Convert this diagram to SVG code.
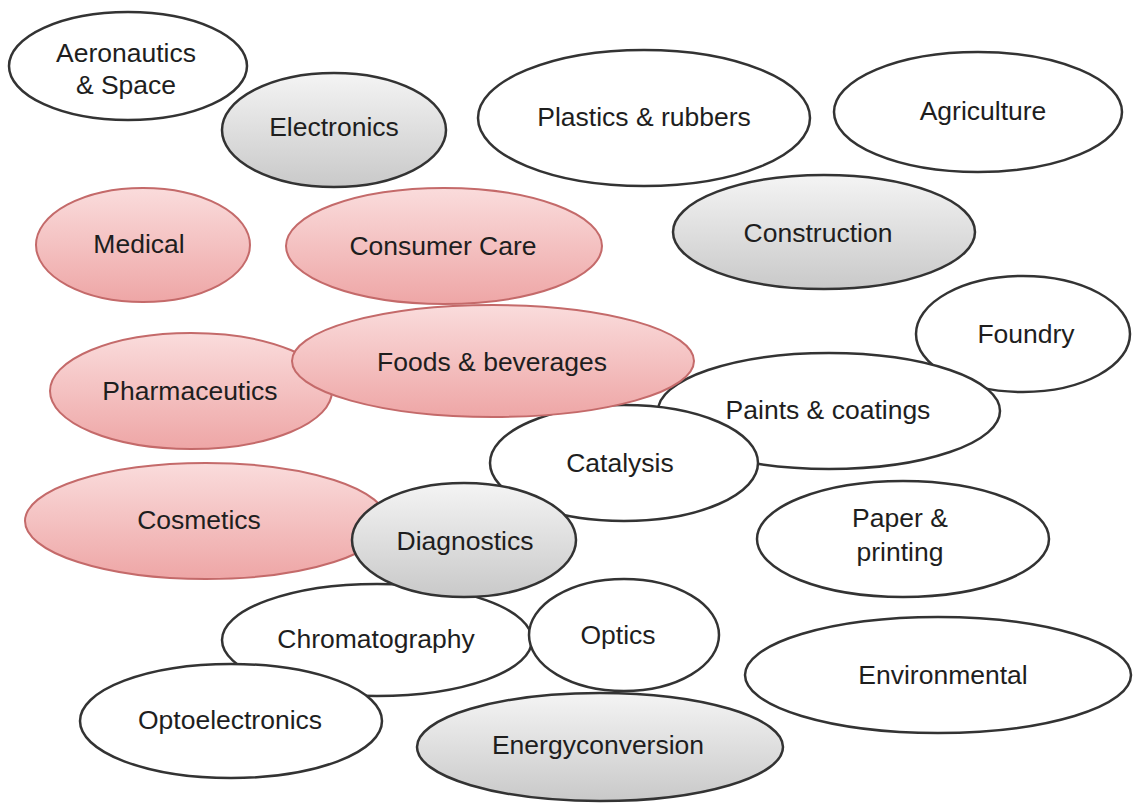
<svg xmlns="http://www.w3.org/2000/svg" width="1133" height="805" viewBox="0 0 1133 805">
  <defs>
    <linearGradient id="gGray" x1="0" y1="0" x2="0" y2="1">
      <stop offset="0" stop-color="#f4f4f4"/>
      <stop offset="1" stop-color="#c9c9c9"/>
    </linearGradient>
    <linearGradient id="gPink" x1="0" y1="0" x2="0" y2="1">
      <stop offset="0" stop-color="#fadcdc"/>
      <stop offset="1" stop-color="#eea6a6"/>
    </linearGradient>
  </defs>
  <style>
    ellipse { stroke-width: 2.5; }
    .w ellipse { fill: #ffffff; stroke: #333333; }
    .g ellipse { fill: url(#gGray); stroke: #333333; }
    .p ellipse { fill: url(#gPink); stroke: #c46a6a; stroke-width: 2; }
    text { font-family: "Liberation Sans", Arial, sans-serif; font-size: 26.5px; fill: #1e1e1e; text-anchor: middle; }
  </style>
  <rect width="1133" height="805" fill="#ffffff"/>

  <!-- topic bubbles, painted back to front -->
  <g id="aeronautics" class="w"><ellipse cx="128" cy="66" rx="119" ry="54"/><text x="126" y="62">Aeronautics</text><text x="126" y="94">&amp; Space</text></g>
  <g id="electronics" class="g"><ellipse cx="334" cy="130" rx="112" ry="57"/><text x="334" y="136">Electronics</text></g>
  <g id="plastics" class="w"><ellipse cx="644" cy="118" rx="166" ry="68"/><text x="644" y="126">Plastics &amp; rubbers</text></g>
  <g id="agriculture" class="w"><ellipse cx="978" cy="112" rx="144" ry="60"/><text x="983" y="120">Agriculture</text></g>
  <g id="construction" class="g"><ellipse cx="824" cy="232" rx="151" ry="57"/><text x="818" y="242">Construction</text></g>
  <g id="medical" class="p"><ellipse cx="143" cy="245" rx="107" ry="57"/><text x="139" y="253">Medical</text></g>
  <g id="consumer-care" class="p"><ellipse cx="444" cy="246" rx="158" ry="58"/><text x="443" y="255">Consumer Care</text></g>
  <g id="foundry" class="w"><ellipse cx="1023" cy="334" rx="107" ry="58"/><text x="1026" y="343">Foundry</text></g>
  <g id="pharmaceutics" class="p"><ellipse cx="191" cy="391" rx="141" ry="58"/><text x="190" y="400">Pharmaceutics</text></g>
  <g id="paints" class="w"><ellipse cx="829" cy="411" rx="171" ry="58"/><text x="828" y="419">Paints &amp; coatings</text></g>
  <g id="catalysis" class="w"><ellipse cx="624" cy="463" rx="134" ry="58"/><text x="620" y="472">Catalysis</text></g>
  <g id="foods" class="p"><ellipse cx="493" cy="361" rx="201" ry="56"/><text x="492" y="371">Foods &amp; beverages</text></g>
  <g id="paper" class="w"><ellipse cx="903" cy="539" rx="146" ry="58"/><text x="900" y="527">Paper &amp;</text><text x="900" y="561">printing</text></g>
  <g id="cosmetics" class="p"><ellipse cx="206" cy="521" rx="181" ry="58"/><text x="199" y="529">Cosmetics</text></g>
  <g id="chromatography" class="w"><ellipse cx="377" cy="640" rx="155" ry="56"/><text x="376" y="648">Chromatography</text></g>
  <g id="diagnostics" class="g"><ellipse cx="464" cy="540" rx="112" ry="57"/><text x="465" y="550">Diagnostics</text></g>
  <g id="optics" class="w"><ellipse cx="624" cy="635" rx="95" ry="56"/><text x="618" y="644">Optics</text></g>
  <g id="environmental" class="w"><ellipse cx="938" cy="675" rx="193" ry="58"/><text x="943" y="684">Environmental</text></g>
  <g id="optoelectronics" class="w"><ellipse cx="231" cy="721" rx="151" ry="57"/><text x="230" y="729">Optoelectronics</text></g>
  <g id="energyconversion" class="g"><ellipse cx="600" cy="747" rx="183" ry="54"/><text x="598" y="754">Energyconversion</text></g>

  <!-- no connectors in this layout -->
  <g id="connectors"/>
</svg>
